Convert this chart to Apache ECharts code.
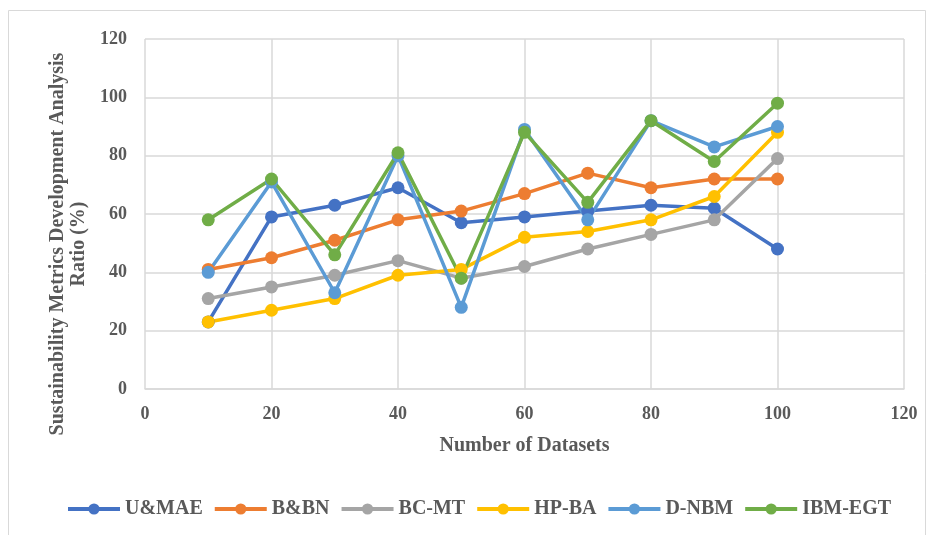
<!DOCTYPE html>
<html>
<head>
<meta charset="utf-8">
<script src="https://cdn.jsdelivr.net/npm/echarts@6/dist/echarts.min.js"></script>
<style>
  html, body { margin: 0; padding: 0; background: #fff; }
  #myChart { width: 934px; height: 535px; }
</style>
</head>
<body>
<div id="myChart"></div>
<script>
// 数据
var datasets = [10, 20, 30, 40, 50, 60, 70, 80, 90, 100]
var umae = [23, 59, 63, 69, 57, 59, 61, 63, 62, 48]
var bbn = [41, 45, 51, 58, 61, 67, 74, 69, 72, 72]
var bcmt = [31, 35, 39, 44, 38, 42, 48, 53, 58, 79]
var hpba = [23, 27, 31, 39, 41, 52, 54, 58, 66, 88]
var dnbm = [40, 71, 33, 80, 28, 89, 58, 92, 83, 90]
var ibmegt = [58, 72, 46, 81, 38, 88, 64, 92, 78, 98]

var font = 'Liberation Serif'

function pairs (vals) {
  return datasets.map(function (x, i) { return [x, vals[i]] })
}

function line (name, vals, color) {
  return {
    name: name,
    type: 'line',
    data: pairs(vals),
    symbol: 'circle',
    symbolSize: 13,
    lineStyle: { width: 3.5, color: color },
    itemStyle: { color: color }
  }
}

var myChart = echarts.init(document.getElementById('myChart'))
myChart.setOption({
  animation: false,
  graphic: [
    {
      type: 'rect',
      shape: { x: 8.5, y: 10.5, width: 917, height: 530 },
      style: { fill: 'none', stroke: '#d9d9d9', lineWidth: 1 },
      silent: true
    }
  ],
  grid: {
    left: 145,
    right: 30,
    top: 39,
    bottom: 146,
    containLabel: false,
    outerBoundsMode: 'none'
  },
  legend: {
    top: 494,
    left: 61,
    itemWidth: 52,
    itemHeight: 14,
    itemGap: 10,
    lineStyle: { width: 4 },
    textStyle: { fontFamily: font, fontWeight: 'bold', fontSize: 20, color: '#595959' },
    data: ['U&MAE', 'B&BN', 'BC-MT', 'HP-BA', 'D-NBM', 'IBM-EGT']
  },
  xAxis: {
    type: 'value',
    min: 0,
    max: 120,
    interval: 20,
    name: 'Number of Datasets',
    nameLocation: 'middle',
    nameGap: 47,
    nameTextStyle: { fontFamily: font, fontWeight: 'bold', fontSize: 20, color: '#595959' },
    axisLine: { show: true, lineStyle: { color: '#d9d9d9', width: 1.5 } },
    axisTick: { show: false },
    axisLabel: { fontFamily: font, fontWeight: 'bold', fontSize: 18, color: '#595959', margin: 16 },
    splitLine: { show: true, lineStyle: { color: '#d9d9d9', width: 1.5 } }
  },
  yAxis: {
    type: 'value',
    min: 0,
    max: 120,
    interval: 20,
    name: 'Sustainability Metrics Development Analysis\nRatio (%)',
    nameLocation: 'middle',
    nameGap: 56,
    nameTextStyle: {
      fontFamily: font,
      fontWeight: 'bold',
      fontSize: 20,
      color: '#595959',
      lineHeight: 21,
      padding: [0, 60, 0, 0]
    },
    axisLine: { show: false },
    axisTick: { show: false },
    axisLabel: { fontFamily: font, fontWeight: 'bold', fontSize: 18, color: '#595959', margin: 18 },
    splitLine: { show: true, lineStyle: { color: '#d9d9d9', width: 1.5 } }
  },
  series: [
    line('U&MAE', umae, '#4472C4'),
    line('B&BN', bbn, '#ED7D31'),
    line('BC-MT', bcmt, '#A5A5A5'),
    line('HP-BA', hpba, '#FFC000'),
    line('D-NBM', dnbm, '#5B9BD5'),
    line('IBM-EGT', ibmegt, '#70AD47')
  ]
})
</script>
</body>
</html>
